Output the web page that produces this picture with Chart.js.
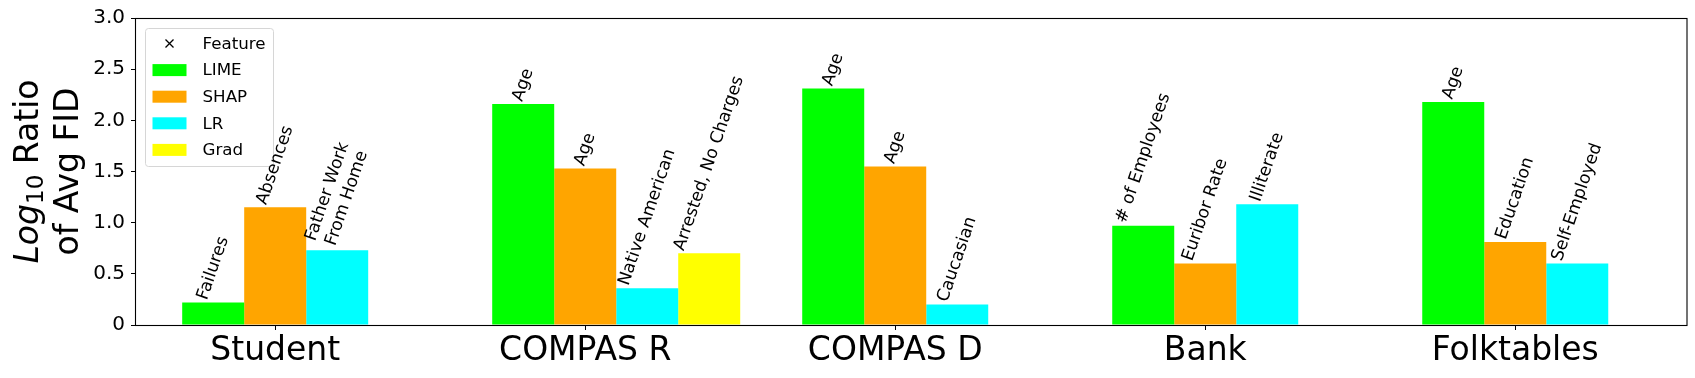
<!DOCTYPE html>
<html>
<head>
<meta charset="utf-8">
<script src="https://cdn.jsdelivr.net/npm/chart.js@4.4.0/dist/chart.umd.min.js"></script>
<style>
  html, body { margin: 0; padding: 0; background: #fff; }
  #wrap { width: 1695px; height: 378px; }
</style>
</head>
<body>
<div id="wrap"><canvas id="chart"></canvas></div>
<script>
/* ── Data ── */
const DATASETS = ['Student', 'COMPAS R', 'COMPAS D', 'Bank', 'Folktables'];
const METHODS  = ['LIME', 'SHAP', 'LR', 'Grad'];
const COLORS   = ['#00ff00', '#ffa500', '#00ffff', '#ffff00'];

const LIME_VALUES = [0.22, 2.16, 2.31, 0.97, 2.18];
const SHAP_VALUES = [1.15, 1.53, 1.55, 0.60, 0.81];
const LR_VALUES   = [0.73, 0.36, 0.20, 1.18, 0.60];
const GRAD_VALUES = [null, 0.70, null, null, null];

const LIME_FEATURES = ['Failures', 'Age', 'Age', '# of Employees', 'Age'];
const SHAP_FEATURES = ['Absences', 'Age', 'Age', 'Euribor Rate', 'Education'];
const LR_FEATURES   = ['Father Work\nFrom Home', 'Native American', 'Caucasian', 'Illiterate', 'Self-Employed'];
const GRAD_FEATURES = [null, 'Arrested, No Charges', null, null, null];

const Y_TICKS       = [0, 0.5, 1.0, 1.5, 2.0, 2.5, 3.0];
const Y_TICK_LABELS = ['0', '0.5', '1.0', '1.5', '2.0', '2.5', '3.0'];

const LEGEND_MARKER_LABEL = 'Feature';

/* ── Layout constants ── */
const FONT = '"DejaVu Sans"';
const X_MIN = -0.449, X_MAX = 4.554;
const BAR_SHIFT = 0.1;   // half a bar: SHAP bar sits on the tick

const VALUES   = [LIME_VALUES, SHAP_VALUES, LR_VALUES, GRAD_VALUES];
const FEATURES = [LIME_FEATURES, SHAP_FEATURES, LR_FEATURES, GRAD_FEATURES];

/* ── Plugins ── */
const frameBox = {
  id: 'frameBox',
  afterDatasetsDraw(chart) {
    const { ctx, chartArea: a } = chart;
    ctx.save();
    ctx.strokeStyle = '#000';
    ctx.lineWidth = 1.1;
    ctx.strokeRect(Math.round(a.left) - 0.5, Math.round(a.top) + 0.5,
                   Math.round(a.right - a.left) + 0.5, Math.round(a.bottom - a.top));
    ctx.restore();
  }
};

const legendBox = {
  id: 'legendBox',
  afterDraw(chart) {
    const { ctx, chartArea: a } = chart;
    const x0 = a.left + 9.5, y0 = a.top + 10.5, w = 128, h = 138;
    ctx.save();
    ctx.beginPath();
    ctx.roundRect(x0, y0, w, h, 3);
    ctx.fillStyle = 'rgba(255,255,255,0.8)';
    ctx.fill();
    ctx.strokeStyle = '#d6d6d6';
    ctx.lineWidth = 1;
    ctx.stroke();

    ctx.font = `16.7px ${FONT}`;
    ctx.textBaseline = 'middle';
    ctx.textAlign = 'left';
    const rowY = k => y0 + 15 + k * 26.6;
    // marker entry
    const mx = x0 + 24, my = rowY(0);
    ctx.strokeStyle = '#000';
    ctx.lineWidth = 1.3;
    ctx.beginPath();
    ctx.moveTo(mx - 4, my - 4); ctx.lineTo(mx + 4, my + 4);
    ctx.moveTo(mx + 4, my - 4); ctx.lineTo(mx - 4, my + 4);
    ctx.stroke();
    ctx.fillStyle = '#000';
    ctx.fillText(LEGEND_MARKER_LABEL, x0 + 57, my + 1);
    chart.data.datasets.forEach((ds, k) => {
      const y = rowY(k + 1);
      ctx.fillStyle = ds.backgroundColor;
      ctx.fillRect(x0 + 7, y - 6, 34, 12);
      ctx.fillStyle = '#000';
      ctx.fillText(ds.label, x0 + 57, y + 1);
    });
    ctx.restore();
  }
};

// drawn after the legend so a label never hides behind it
const featureLabels = {
  id: 'featureLabels',
  afterDraw(chart) {
    const ctx = chart.ctx;
    const fs = 17.2, lh = fs * 1.2;
    const th = 71 * Math.PI / 180;
    ctx.save();
    ctx.font = `${fs}px ${FONT}`;
    ctx.fillStyle = '#000';
    ctx.textAlign = 'center';
    ctx.textBaseline = 'middle';
    chart.data.datasets.forEach((ds, d) => {
      const meta = chart.getDatasetMeta(d);
      ds.features.forEach((txt, i) => {
        if (!txt || ds.data[i].y == null) return;
        const bar = meta.data[i];
        const lines = txt.split('\n');
        const W = Math.max(...lines.map(l => ctx.measureText(l).width));
        const H = ((lines.length - 1) * 1.2 + 1.16) * fs;
        const bh = W * Math.sin(th) + H * Math.cos(th);
        ctx.save();
        ctx.translate(bar.x, bar.y - bh / 2);
        ctx.rotate(-th);
        lines.forEach((l, k) => ctx.fillText(l, 0, (k - (lines.length - 1) / 2) * lh));
        ctx.restore();
      });
    });
    ctx.restore();
  }
};

const yTitle = {
  id: 'yTitle',
  afterDraw(chart) {
    const { ctx, chartArea: a } = chart;
    const fs = 33;
    const cy = (a.top + a.bottom) / 2;
    ctx.save();
    ctx.translate(0, cy);
    ctx.rotate(-Math.PI / 2);
    ctx.fillStyle = '#000';
    ctx.textBaseline = 'alphabetic';
    ctx.textAlign = 'left';
    const parts = [
      { t: 'Log', font: `italic ${fs}px ${FONT}`, dy: 0 },
      { t: '10', font: `${fs * 0.7}px ${FONT}`, dy: 5 },
      { t: ' Ratio', font: `${fs}px ${FONT}`, dy: 0 },
    ];
    let total = 0;
    parts.forEach(p => { ctx.font = p.font; p.w = ctx.measureText(p.t).width; total += p.w; });
    let x = -total / 2;
    parts.forEach(p => { ctx.font = p.font; ctx.fillText(p.t, x, 37.5 + p.dy); x += p.w; });
    ctx.font = `${fs}px ${FONT}`;
    ctx.textAlign = 'center';
    ctx.fillText('of Avg FID', 0, 78);
    ctx.restore();
  }
};

/* ── Chart ── */
new Chart(document.getElementById('chart'), {
  type: 'bar',
  data: {
    datasets: METHODS.map((m, k) => ({
      label: m,
      data: DATASETS.map((_, i) => ({ x: i + BAR_SHIFT, y: VALUES[k][i] })),
      features: FEATURES[k],
      backgroundColor: COLORS[k],
      borderWidth: 0,
      categoryPercentage: 0.8,
      barPercentage: 1.0,
    })),
  },
  options: {
    responsive: true,
    maintainAspectRatio: false,
    animation: false,
    layout: { padding: { top: 17, right: 8, bottom: 0, left: 0 } },
    plugins: { legend: { display: false }, tooltip: { enabled: false } },
    scales: {
      x: {
        type: 'linear',
        min: X_MIN,
        max: X_MAX,
        offset: false,
        afterBuildTicks: s => { s.ticks = DATASETS.map((_, i) => ({ value: i })); },
        afterFit: s => { s.height = 53; },
        ticks: {
          callback: (v, i) => DATASETS[i],
          color: '#000',
          font: { family: 'DejaVu Sans', size: 33 },
          padding: 2,
          maxRotation: 0,
          autoSkip: false,
        },
        grid: { display: true, offset: false, drawOnChartArea: false, drawTicks: true, tickLength: 5, color: '#000' },
        border: { display: false },
      },
      y: {
        min: 0,
        max: 3,
        afterBuildTicks: s => { s.ticks = Y_TICKS.map(v => ({ value: v })); },
        afterFit: s => { s.width = 136; },
        ticks: {
          callback: (v, i) => Y_TICK_LABELS[i],
          color: '#000',
          font: { family: 'DejaVu Sans', size: 20 },
          padding: 6,
        },
        grid: { display: true, offset: false, drawOnChartArea: false, drawTicks: true, tickLength: 5, color: '#000' },
        border: { display: false },
      },
    },
  },
  plugins: [frameBox, legendBox, featureLabels, yTitle],
});
</script>
</body>
</html>
